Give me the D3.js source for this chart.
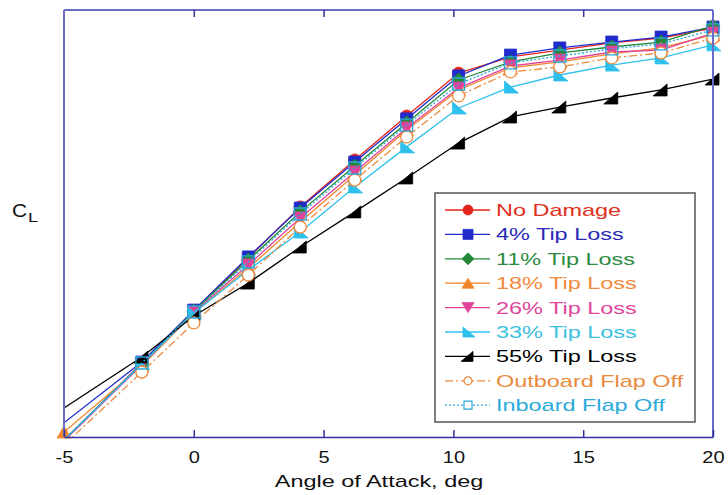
<!DOCTYPE html>
<html>
<head>
<meta charset="utf-8">
<script src="https://cdn.jsdelivr.net/npm/d3@7"></script>
<style>
  html, body { margin: 0; padding: 0; background: #fff; }
  svg { display: block; font-family: "Liberation Sans", Arial, Helvetica, sans-serif; }
</style>
</head>
<body>
<svg id="chart" width="728" height="495"></svg>
<script>
// Angle of attack (deg) at which each configuration was measured
const alpha = [-5, -2, 0, 2.1, 4.1, 6.2, 8.2, 10.2, 12.2, 14.1, 16.1, 18.0, 20.0];
// First angle per series (some runs start just below the plotted range)
const startAlpha = [-5, -6, -5, -5, -5, -5, -6, -5, -5];

const seriesNames = [
  "No Damage", "4% Tip Loss", "11% Tip Loss", "18% Tip Loss", "26% Tip Loss",
  "33% Tip Loss", "55% Tip Loss", "Outboard Flap Off", "Inboard Flap Off"
];

// Lift coefficient for each configuration
const noDamage  = [-0.413, -0.088, 0.131, 0.355, 0.570, 0.768, 0.953, 1.134, 1.202, 1.231, 1.261, 1.282, 1.324];
const tip4      = [-0.425, -0.084, 0.135, 0.359, 0.565, 0.759, 0.941, 1.122, 1.210, 1.240, 1.265, 1.286, 1.328];
const tip11     = [-0.413, -0.092, 0.131, 0.346, 0.549, 0.742, 0.924, 1.105, 1.181, 1.219, 1.244, 1.265, 1.333];
const tip18     = [-0.379, -0.101, 0.123, 0.312, 0.506, 0.704, 0.894, 1.063, 1.156, 1.181, 1.215, 1.240, 1.295];
const tip26     = [-0.417, -0.096, 0.127, 0.325, 0.523, 0.717, 0.903, 1.071, 1.164, 1.189, 1.223, 1.231, 1.303];
const tip33     = [-0.413, -0.092, 0.123, 0.304, 0.464, 0.654, 0.823, 0.987, 1.075, 1.126, 1.168, 1.198, 1.253];
const tip55     = [-0.349, -0.063, 0.110, 0.249, 0.401, 0.549, 0.692, 0.839, 0.949, 0.991, 1.029, 1.063, 1.109];
const outboard  = [-0.434, -0.126, 0.081, 0.283, 0.485, 0.683, 0.865, 1.038, 1.139, 1.160, 1.198, 1.219, 1.282];
const inboard   = [-0.413, -0.088, 0.127, 0.338, 0.540, 0.734, 0.915, 1.088, 1.177, 1.206, 1.236, 1.257, 1.316];

const xTicks = [-5, 0, 5, 10, 15, 20];

const values  = [noDamage, tip4, tip11, tip18, tip26, tip33, tip55, outboard, inboard];
const colors  = ["#e4251b", "#1f2bcc", "#23883a", "#f2852a", "#e2429a", "#2ec0ec", "#000000", "#ec8a3e", "#2aa6d6"];
const textCol = ["#e03020", "#2a2ab8", "#2e8b40", "#f08a3c", "#e0479a", "#3cc0e0", "#000000", "#e88a40", "#2aaad8"];
const shapes  = ["circle", "square", "diamond", "up", "down", "triL", "triR", "circle", "square"];
const dashes  = [null, null, null, null, null, null, null, "8,3,2,3", "2,2"];
const hollow  = [false, false, false, false, false, false, false, true, true];

const svg = d3.select("#chart");
const x = d3.scaleLinear().domain([-5, 20]).range([64, 713]);
const y = d3.scaleLinear().domain([-0.4, 1.4]).range([437, 10]);

// marker outline, centred on the origin
function markerPath(shape, s) {
  const h = s / 2;
  switch (shape) {
    case "circle": return d3.symbol(d3.symbolCircle, Math.PI * h * h)();
    case "square": return `M${-h},${-h}H${h}V${h}H${-h}Z`;
    case "diamond": return `M0,${-h - 1}L${h + 1},0L0,${h + 1}L${-h - 1},0Z`;
    case "up": return `M0,${-h}L${h + 1},${h}L${-h - 1},${h}Z`;
    case "down": return `M0,${h}L${h + 1},${-h}L${-h - 1},${-h}Z`;
    case "triL": return `M${-h},${-h}L${h + 2},${h}L${-h},${h}Z`;
    case "triR": return `M${h},${-h}L${h},${h}L${-h - 2},${h}Z`;
  }
}

svg.append("defs").append("clipPath").attr("id", "plotClip")
  .append("rect").attr("x", x(-5)).attr("y", y(1.4))
  .attr("width", x(20) - x(-5)).attr("height", y(-0.4) - y(1.4));

const line = d3.line().x(d => x(d.a)).y(d => y(d.v));

const plot = svg.append("g");
values.forEach((vals, i) => {
  const pts = vals.map((v, j) => ({ a: j === 0 ? startAlpha[i] : alpha[j], v }));
  const g = plot.append("g");
  g.append("path")
    .attr("d", line(pts))
    .attr("fill", "none")
    .attr("stroke", colors[i])
    .attr("stroke-width", 1.3)
    .attr("stroke-dasharray", dashes[i])
    .attr("clip-path", "url(#plotClip)");
  const visible = pts.filter(p => p.a >= -5 && p.a <= 20 && p.v >= -0.4 && p.v <= 1.4);
  g.selectAll("path.mk").data(visible).join("path")
    .attr("class", "mk")
    .attr("transform", d => `translate(${x(d.a)},${y(d.v)})`)
    .attr("d", markerPath(shapes[i], 12))
    .attr("fill", hollow[i] ? (i === 7 ? "#fff" : "none") : colors[i])
    .attr("stroke", colors[i])
    .attr("stroke-width", hollow[i] ? 1.3 : 0.8);
});

// axes box
const box = svg.append("g");
box.append("line").attr("x1", x(-5)).attr("x2", x(-5)).attr("y1", y(1.4)).attr("y2", y(-0.4))
  .attr("stroke", "#6a6ac8").attr("stroke-width", 2);
box.append("line").attr("x1", x(20)).attr("x2", x(20)).attr("y1", y(1.4)).attr("y2", y(-0.4))
  .attr("stroke", "#6a6ac8").attr("stroke-width", 2);
box.append("line").attr("x1", x(-5)).attr("x2", x(20)).attr("y1", y(1.4)).attr("y2", y(1.4))
  .attr("stroke", "#6a6ac8").attr("stroke-width", 2);

const bottomAxis = svg.append("g")
  .attr("transform", `translate(0,${y(-0.4)})`)
  .call(d3.axisBottom(x).tickValues(xTicks).tickSizeInner(-7).tickSizeOuter(0)
    .tickPadding(15).tickFormat(d => String(d)));
bottomAxis.select(".domain").attr("stroke", "#3434a8").attr("stroke-width", 1.6);
bottomAxis.selectAll(".tick line").attr("stroke", "#3030a0").attr("stroke-width", 1.5);
bottomAxis.selectAll(".tick text")
  .attr("fill", "#111").attr("font-size", 16)
  .attr("font-family", "'Liberation Sans', Arial, sans-serif")
  .attr("transform", "scale(1.25,1)");

const topAxis = svg.append("g")
  .attr("transform", `translate(0,${y(1.4)})`)
  .call(d3.axisTop(x).tickValues(xTicks.filter(t => t > -5 && t < 20)).tickSizeInner(-7).tickSizeOuter(0).tickFormat(""));
topAxis.select(".domain").remove();
topAxis.selectAll(".tick line").attr("stroke", "#3030a0").attr("stroke-width", 1.5);

// axis titles
svg.append("text")
  .attr("transform", "translate(379,487) scale(1.38,1)")
  .attr("text-anchor", "middle").attr("font-size", 17).attr("fill", "#111")
  .text("Angle of Attack, deg");
svg.append("text").attr("transform", "translate(12,217) scale(1.1,1)")
  .attr("font-size", 19).attr("fill", "#111").text("C");
svg.append("text").attr("transform", "translate(28,222) scale(1.4,1)")
  .attr("font-size", 13).attr("fill", "#111").text("L");

// legend
const lg = svg.append("g");
lg.append("rect").attr("x", 435).attr("y", 193).attr("width", 260).attr("height", 229)
  .attr("fill", "#fff").attr("stroke", "#555").attr("stroke-width", 1.5);
seriesNames.forEach((name, i) => {
  const cy = 210 + i * 24.4;
  lg.append("line").attr("x1", 445).attr("x2", 490).attr("y1", cy).attr("y2", cy)
    .attr("stroke", colors[i]).attr("stroke-width", 1.3).attr("stroke-dasharray", dashes[i]);
  lg.append("path")
    .attr("transform", `translate(468,${cy})`)
    .attr("d", markerPath(shapes[i], i >= 7 ? 8 : 10))
    .attr("fill", hollow[i] ? "#fff" : colors[i])
    .attr("stroke", colors[i]).attr("stroke-width", hollow[i] ? 1.2 : 0.8);
  lg.append("text")
    .attr("transform", `translate(496,${cy + 6}) scale(1.38,1)`)
    .attr("font-size", 17).attr("fill", textCol[i])
    .text(name);
});
</script>
</body>
</html>
